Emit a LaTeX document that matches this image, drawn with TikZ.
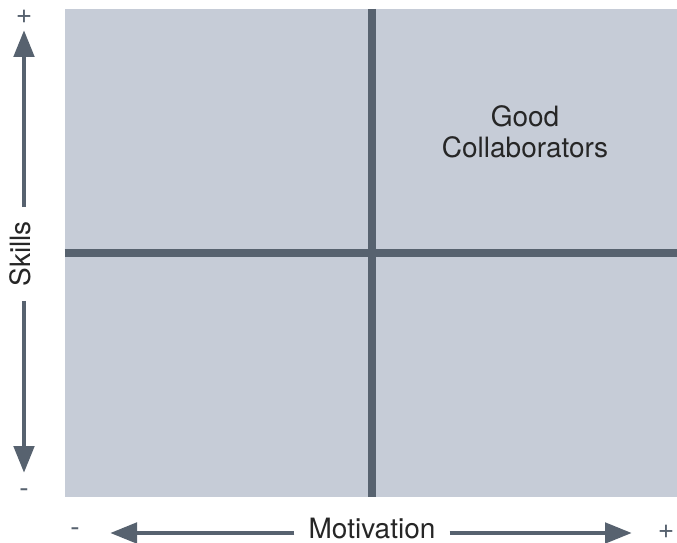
\documentclass[tikz,border=0pt]{standalone}
\usepackage{fontspec}
\setmainfont{TeX Gyre Heros}
\usepackage{tikz}
\usetikzlibrary{positioning}
\usetikzlibrary{arrows.meta}
\definecolor{quadColor}{HTML}{C6CCD7}
\definecolor{axisColor}{HTML}{57626F}

\begin{document}
\begin{tikzpicture}[x=0.03cm,y=-0.03cm]

            \tikzstyle{divider} = [line width=6.8pt, axisColor];
            \tikzstyle{axisArrow} = [line width=4.2pt, axisColor, -{Triangle[length=0.81cm,width=0.6cm]}];
            \tikzstyle{axisLabel} = [font=\fontsize{23.9}{27}\selectfont, text=black!85, inner xsep=0.42cm, inner ysep=0pt];
            \tikzstyle{signLabel} = [font=\fontsize{24}{26}\selectfont, text=axisColor, inner sep=0pt];

            \useasboundingbox (0,0) rectangle (677,543);

            \fill[quadColor] (64.5,9) rectangle (677,497);

            \coordinate (midTop)    at (372,9);
            \coordinate (midBottom) at (372,497);
            \coordinate (midLeft)   at (64.5,253);
            \coordinate (midRight)  at (677,253);

            \draw[divider] (midTop) -- (midBottom);
            \draw[divider] (midLeft) -- (midRight);

            \node[font=\fontsize{23.9}{26.5}\selectfont, text=black!85, align=center] (good) at (525,132) {Good\\Collaborators};

            % skills axis
            \coordinate (skillsTop)    at (24,30);
            \coordinate (skillsBottom) at (24,473);
            \node[axisLabel, rotate=90] (skills) at (20.5,254) {Skills};
            \draw[axisArrow] (skillsTop |- skills.east) -- (skillsTop);
            \draw[axisArrow] (skillsBottom |- skills.west) -- (skillsBottom);
            \node[signLabel] (skillsPlus)  at (24,17)  {+};
            \node[signLabel] (skillsMinus) at (24,493) {-};

            % motivation axis
            \coordinate (motLeft)  at (110,533);
            \coordinate (motRight) at (632,533);
            \node[axisLabel] (motivation) at (372,529) {Motivation};
            \draw[axisArrow] (motivation.west |- motLeft) -- (motLeft);
            \draw[axisArrow] (motivation.east |- motRight) -- (motRight);
            \node[signLabel] (motMinus) at (75,532)  {-};
            \node[signLabel] (motPlus)  at (666,532) {+};

\end{tikzpicture}
\end{document}
